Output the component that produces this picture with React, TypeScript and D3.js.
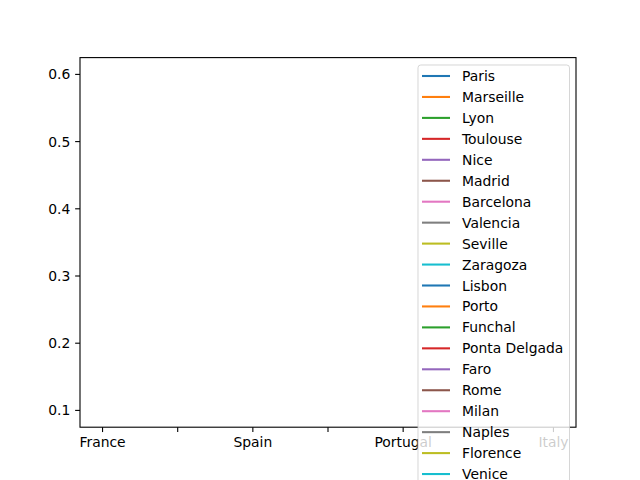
import React from "react";
import * as d3 from "d3";

const countries = ["France", "Spain", "Portugal", "Italy"];
const cities = [
  "Paris", "Marseille", "Lyon", "Toulouse", "Nice",
  "Madrid", "Barcelona", "Valencia", "Seville", "Zaragoza",
  "Lisbon", "Porto", "Funchal", "Ponta Delgada", "Faro",
  "Rome", "Milan", "Naples", "Florence", "Venice",
];
const cityCountry = [
  0, 0, 0, 0, 0,
  1, 1, 1, 1, 1,
  2, 2, 2, 2, 2,
  3, 3, 3, 3, 3,
];
// one value per city, only in its own country row (single-point lines draw nothing visible)
const cityValues = [
  0.6, 0.35, 0.3, 0.25, 0.2,
  0.45, 0.4, 0.3, 0.2, 0.15,
  0.35, 0.3, 0.15, 0.1, 0.12,
  0.5, 0.4, 0.3, 0.25, 0.2,
];
const yTicks = [0.1, 0.2, 0.3, 0.4, 0.5, 0.6];
const xTicks = [0, 0.5, 1, 1.5, 2, 2.5, 3];
const colors = ["#1f77b4", "#ff7f0e", "#2ca02c", "#d62728", "#9467bd", "#8c564b", "#e377c2", "#7f7f7f", "#bcbd22", "#17becf"];

const W = 640, H = 480;
const L = 80, R = 576, T = 57.6, B = 427.2;
const FONT = "DejaVu Sans, sans-serif";
const FS = 13.9;

export default function App() {
  const x = d3.scaleLinear().domain([-0.15, 3.15]).range([L, R]);
  const y = d3.scaleLinear().domain([0.075, 0.625]).range([B, T]);
  const line = d3.line<[number, number]>().x((d) => x(d[0])).y((d) => y(d[1]));

  const legX = 418, legY = 65, legW = 151.5, rowH = 20.95;
  const legH = 11 + cities.length * rowH;

  return (
    <svg width={W} height={H} style={{ position: "absolute", left: 0, top: 0, background: "#fff" }} fontFamily={FONT}>
      <rect x={0} y={0} width={W} height={H} fill="#fff" />
      <g>
        {cities.map((c, i) => (
          <path key={c} d={line([[cityCountry[i], cityValues[i]]]) || ""} fill="none" stroke={colors[i % 10]} strokeWidth={2.08} />
        ))}
      </g>
      <rect x={L} y={T} width={R - L} height={B - T} fill="none" stroke="#000" strokeWidth={1.1} />
      {yTicks.map((t) => (
        <g key={t}>
          <line x1={L - 4.86} x2={L} y1={y(t)} y2={y(t)} stroke="#000" strokeWidth={1.1} />
          <text x={L - 9.7} y={y(t)} textAnchor="end" dominantBaseline="central" fontSize={FS} fill="#000">
            {d3.format(".1f")(t)}
          </text>
        </g>
      ))}
      {xTicks.map((t) => (
        <g key={t}>
          <line x1={x(t)} x2={x(t)} y1={B} y2={B + 4.86} stroke="#000" strokeWidth={1.1} />
          {Number.isInteger(t) && (
            <text x={x(t)} y={B + 9.7} textAnchor="middle" dominantBaseline="hanging" fontSize={FS} fill="#000">
              {countries[t]}
            </text>
          )}
        </g>
      ))}
      <g>
        <rect x={legX} y={legY} width={legW} height={legH} rx={2.8} ry={2.8} fill="#fff" fillOpacity={0.8} stroke="#cccccc" strokeOpacity={0.8} strokeWidth={1} />
        {cities.map((c, i) => {
          const cy = legY + 11 + i * rowH;
          return (
            <g key={c}>
              <line x1={legX + 4} x2={legX + 32} y1={cy} y2={cy} stroke={colors[i % 10]} strokeWidth={2.08} />
              <text x={legX + 44} y={cy} dominantBaseline="central" fontSize={FS} fill="#000">{c}</text>
            </g>
          );
        })}
      </g>
    </svg>
  );
}
